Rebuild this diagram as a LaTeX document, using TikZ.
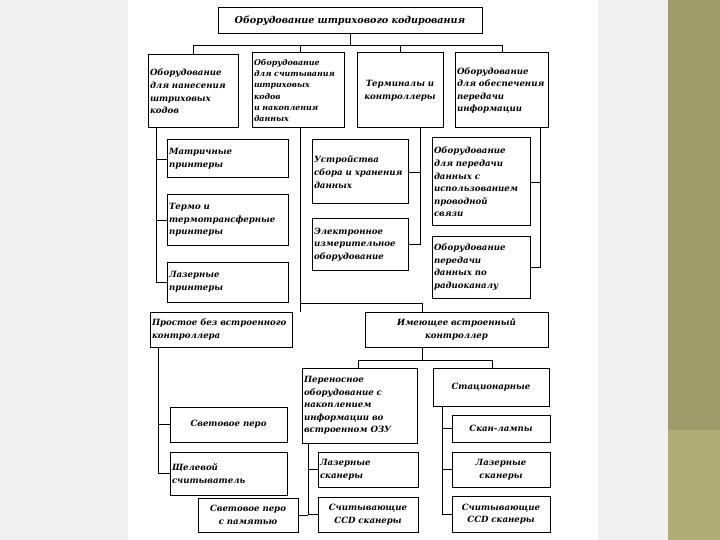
\documentclass[tikz,border=0pt]{standalone}
\usepackage{fontspec}
\setmainfont{DejaVu Serif}
\begin{document}
\begin{tikzpicture}[x=1pt,y=-1pt,
 bx/.style={draw,line width=1pt,fill=white,inner sep=2pt,align=left,font=\fontsize{8.6}{12.6}\selectfont\bfseries\itshape},
 cb/.style={align=center},
 sm/.style={font=\fontsize{7.9}{11.2}\selectfont\bfseries\itshape,inner sep=1pt},
 ln/.style={line width=0.9pt}]
\useasboundingbox (0,0) rectangle (720,540);
\fill[gray!12] (0,0) rectangle (720,540);
\fill[white] (128,0) rectangle (598,540);
\fill[black!45!olive!60] (668,0) rectangle (720,540);
\fill[olive!45!gray!70] (668,430) rectangle (720,540);
\newcommand\bxn[7][]{\node[bx,#1,minimum width=#5-#3,minimum height=#6-#4,text width=#5-#3-4] (#2) at ({(#3+#5)/2},{(#4+#6)/2}) {#7};}
\bxn[cb,font=\fontsize{9.6}{12}\selectfont\bfseries\itshape]{top}{218}{8}{482}{34}{Оборудование штрихового кодирования}
\bxn{a}{148}{55}{238}{128}{Оборудование\\для нанесения\\штриховых\\кодов}
\bxn[sm]{b}{252}{53}{344}{128}{Оборудование\\для считывания\\штриховых\\кодов\\и накопления\\данных}
\bxn[cb]{c}{357}{53}{443}{128}{Терминалы и\\контроллеры}
\bxn{d}{455}{53}{548}{128}{Оборудование\\для обеспечения\\передачи\\информации}
\bxn{a1}{167}{140}{288}{178}{Матричные\\принтеры}
\bxn{a2}{167}{195}{288}{245}{Термо и\\термотрансферные\\принтеры}
\bxn{a3}{167}{262}{288}{302}{Лазерные\\принтеры}
\bxn{c1}{312}{140}{408}{204}{Устройства\\сбора и хранения\\данных\\[4pt]}
\bxn{c2}{312}{219}{408}{270}{Электронное\\измерительное\\оборудование}
\bxn{d1}{432}{138}{530}{226}{Оборудование\\для передачи\\данных с\\использованием\\проводной\\связи}
\bxn{d2}{432}{236}{530}{298}{Оборудование\\передачи\\данных по\\радиоканалу}
\bxn{p}{150}{312}{292}{347}{Простое без встроенного\\контроллера}
\bxn[cb]{q}{365}{312}{548}{347}{Имеющее встроенный\\контроллер}
\bxn[cb]{p1}{170}{407}{287}{442}{Световое перо}
\bxn{p2}{170}{452}{287}{495}{Щелевой\\считыватель}
\bxn{r}{302}{368}{417}{443}{Переносное\\оборудование с\\накоплением\\информации во\\встроенном ОЗУ}
\bxn[cb]{s}{433}{368}{549}{406}{Стационарные}
\bxn{r1}{318}{452}{418}{487}{Лазерные\\сканеры}
\bxn[cb]{r2}{318}{497}{418}{532}{Считывающие\\CCD сканеры}
\bxn[cb]{r0}{198}{498}{298}{532}{Световое перо\\с памятью}
\bxn[cb]{s1}{452}{415}{550}{442}{Скан-лампы}
\bxn[cb]{s2}{452}{452}{550}{487}{Лазерные\\сканеры}
\bxn[cb]{s3}{452}{496}{550}{532}{Считывающие\\CCD сканеры}
% top level
\draw[ln] (top.south) -- ++(0,11);
\draw[ln] (193,45) -- (502,45);
\draw[ln] (193,45) -- (a.north-|193,0);
\draw[ln] (300,45) -- (b.north-|300,0);
\draw[ln] (400,45) -- (c.north-|400,0);
\draw[ln] (502,45) -- (d.north-|502,0);
% A
\draw[ln] (a.south-|156,0) -- (156,282);
\foreach \n in {a1,a2,a3} \draw[ln] (\n.west-|156,0) -- (\n.west);
% C
\draw[ln] (c.south-|420,0) -- (420,245);
\draw[ln] (c1.east) -- (c1.east-|420,0);
\draw[ln] (c2.east) -- (c2.east-|420,0);
% D
\draw[ln] (d.south-|540,0) -- (540,268);
\draw[ln] (d1.east) -- (d1.east-|540,0);
\draw[ln] (d2.east) -- (d2.east-|540,0);
% B
\draw[ln] (b.south-|300,0) -- (300,303) -- (422,303);
\draw[ln] (300,303) -- (300,312);
\draw[ln] (422,303) -- (q.north-|422,0);
% P
\draw[ln] (p.south-|158,0) -- (158,473);
\foreach \n in {p1,p2} \draw[ln] (\n.west-|158,0) -- (\n.west);
% Q
\draw[ln] (q.south-|422,0) -- (422,360);
\draw[ln] (358,360) -- (492,360);
\draw[ln] (358,360) -- (r.north-|358,0);
\draw[ln] (492,360) -- (s.north-|492,0);
% R
\draw[ln] (r.south-|308,0) -- (308,514);
\foreach \n in {r1,r2} \draw[ln] (\n.west-|308,0) -- (\n.west);
\draw[ln] (r0.east) -- (r0.east-|308,0);
% S
\draw[ln] (s.south-|442,0) -- (442,514);
\foreach \n in {s1,s2,s3} \draw[ln] (\n.west-|442,0) -- (\n.west);
\end{tikzpicture}
\end{document}
